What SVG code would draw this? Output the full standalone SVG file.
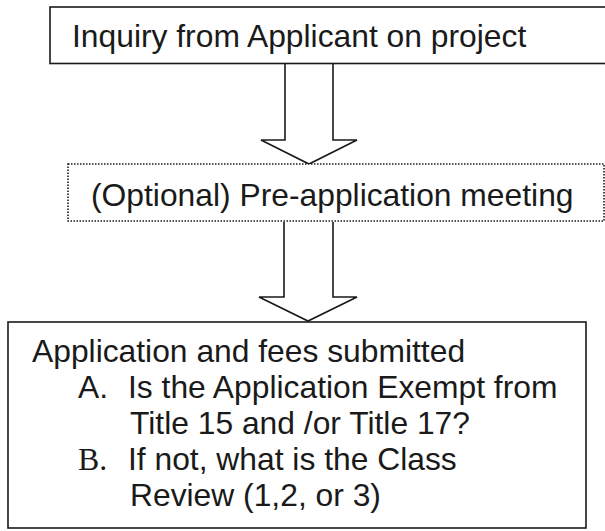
<svg xmlns="http://www.w3.org/2000/svg" width="605" height="531" viewBox="0 0 605 531">
<style>
.box{fill:#fff;stroke:#1a1a1a;stroke-width:1.6}
.dot{fill:#fff;stroke:#1a1a1a;stroke-width:1.6;stroke-dasharray:1.5 1.5}
.arr{fill:#fff;stroke:#1a1a1a;stroke-width:1.6;stroke-linejoin:miter}
.t{font-family:"Liberation Sans",Arial,sans-serif;font-size:31.8px;fill:#1a1a1a}
.s{font-family:"Liberation Serif","Times New Roman",serif;font-size:31.8px;fill:#1a1a1a}
</style>
<rect width="605" height="531" fill="#fff"/>
<g id="connectors">
<path class="arr" d="M285,64 L285,140 L261,140 L309,164 L357,140 L333,140 L333,64"/>
<path class="arr" d="M284,222 L284,297 L259,297 L308,321 L357,297 L333,297 L333,222"/>
</g>
<g id="inquiry">
<rect class="box" x="50" y="7" width="570" height="56.5"/>
<text class="t" x="72" y="47">Inquiry from Applicant on project</text>
</g>
<g id="preapp">
<rect class="dot" x="68" y="164" width="536" height="57"/>
<text class="t" x="91" y="206">(Optional) Pre-application meeting</text>
</g>
<g id="application">
<rect class="box" x="8" y="322" width="578" height="206"/>
<text class="t" x="32" y="362">Application and fees submitted</text>
<text class="t" x="78" y="398">A.</text>
<text class="t" x="128" y="398">Is the Application Exempt from</text>
<text class="t" x="130" y="434">Title 15 and /or Title 17?</text>
<text class="s" x="78" y="470">B.</text>
<text class="t" x="128" y="470">If not, what is the Class</text>
<text class="t" x="130" y="506">Review (1,2, or 3)</text>
</g>
</svg>
